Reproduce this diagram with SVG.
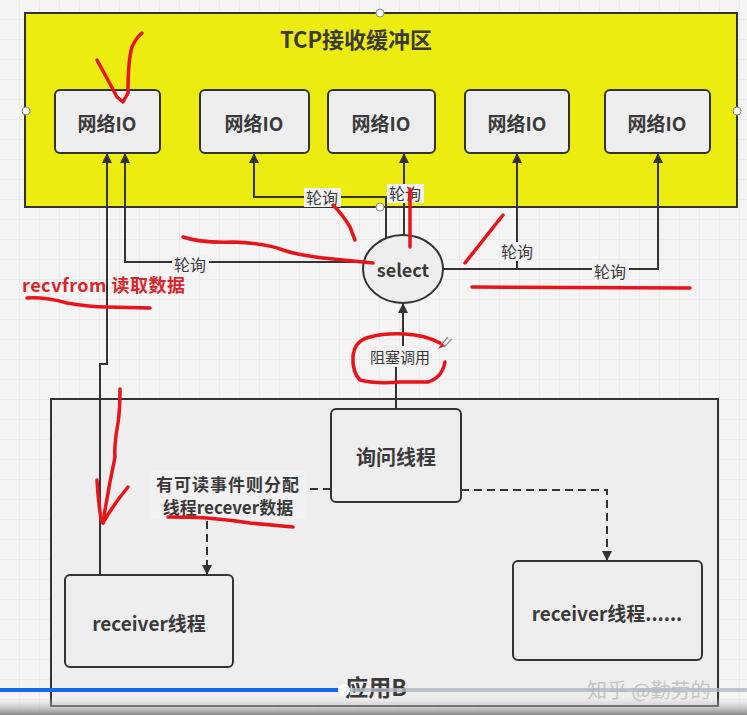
<svg xmlns="http://www.w3.org/2000/svg" width="747" height="715" viewBox="0 0 747 715">
<defs>
<pattern id="grid" width="20" height="20" patternUnits="userSpaceOnUse">
<rect width="20" height="20" fill="#f4f4f4"/>
<path d="M20 0V20M0 20H20" stroke="#e2e2e2" stroke-width="1" fill="none"/>
</pattern>
<marker id="arr" viewBox="0 0 10 10" refX="9" refY="5" markerWidth="10" markerHeight="10" markerUnits="userSpaceOnUse" orient="auto">
<path d="M0,0 L10,5 L0,10 Z" fill="#333"/>
</marker>
<linearGradient id="shade" x1="0" y1="0" x2="0" y2="1">
<stop offset="0" stop-color="#ddd" stop-opacity="0"/>
<stop offset="1" stop-color="#888"/>
</linearGradient>
</defs>
<style>
.t{font-family:"Noto Sans CJK SC","Noto Sans",sans-serif;fill:#3a3a3a;text-anchor:middle;dominant-baseline:central}
.b{font-weight:bold}
.box{fill:#eeeeee;stroke:#333;stroke-width:2}
.ln{fill:none;stroke:#333;stroke-width:2}
.dash{fill:none;stroke:#333;stroke-width:2;stroke-dasharray:8 5}
.lbg{fill:#f1f1f1}
.red{fill:none;stroke:#e8141a;stroke-width:3.5;stroke-linecap:round;stroke-linejoin:round}
.h{fill:#fff;stroke:#888;stroke-width:1}
</style>
<rect width="747" height="715" fill="url(#grid)"/>

<g id="tcp-buffer">
<rect x="25" y="13" width="712" height="194" fill="#ecec10" stroke="#333" stroke-width="2"/>
<text class="t b" x="356" y="38" font-size="22">TCP接收缓冲区</text>
</g>
<g id="app-b">
<rect x="51" y="399" width="667" height="307" fill="#eeeeee" stroke="#333" stroke-width="2"/>
<text class="t b" x="376" y="686" font-size="23">应用B</text>
</g>

<g id="io1"><rect class="box" x="55" y="90" width="105" height="63" rx="5"/><text class="t b" x="107" y="122" font-size="19">网络IO</text></g>
<g id="io2"><rect class="box" x="200" y="90" width="109" height="63" rx="5"/><text class="t b" x="254" y="122" font-size="19">网络IO</text></g>
<g id="io3"><rect class="box" x="328" y="90" width="107" height="63" rx="5"/><text class="t b" x="381" y="122" font-size="19">网络IO</text></g>
<g id="io4"><rect class="box" x="465" y="90" width="104" height="63" rx="5"/><text class="t b" x="517" y="122" font-size="19">网络IO</text></g>
<g id="io5"><rect class="box" x="605" y="90" width="105" height="63" rx="5"/><text class="t b" x="657" y="122" font-size="19">网络IO</text></g>

<g id="select"><ellipse class="box" cx="403" cy="269" rx="40" ry="34"/><text class="t b" x="403" y="269" font-size="18">select</text></g>
<g id="query-thread"><rect class="box" x="331" y="409" width="130" height="93" rx="5"/><text class="t b" x="396" y="456" font-size="20">询问线程</text></g>
<g id="receiver1"><rect class="box" x="65" y="575" width="168" height="92" rx="5"/><text class="t b" x="149" y="622" font-size="19">receiver线程</text></g>
<g id="receiver2"><rect class="box" x="513" y="561" width="189" height="99" rx="5"/><text class="t b" x="607" y="612" font-size="19">receiver线程......</text></g>

<g id="connectors">
<path class="ln" d="M100,575 V364 H107 V154" marker-end="url(#arr)"/>
<path class="ln" d="M364,262 H125 V154" marker-end="url(#arr)"/>
<path class="ln" d="M386,238 V197 H254 V154" marker-end="url(#arr)"/>
<path class="ln" d="M404,235 V154" marker-end="url(#arr)"/>
<path class="ln" d="M443,269 H517 V154" marker-end="url(#arr)"/>
<path class="ln" d="M443,269 H658 V154" marker-end="url(#arr)"/>
<path class="ln" d="M396,409 V356 H403 V304" marker-end="url(#arr)"/>
<path class="dash" d="M331,489 H207 V574" marker-end="url(#arr)"/>
<path class="dash" d="M461,490 H607 V560" marker-end="url(#arr)"/>

<rect class="lbg" x="172" y="255" width="37" height="19"/>
<text class="t" x="190" y="264" font-size="16">轮询</text>
<rect class="lbg" x="304" y="188" width="37" height="19"/>
<text class="t" x="322" y="197" font-size="16">轮询</text>
<rect class="lbg" x="387" y="184" width="37" height="19"/>
<text class="t" x="405" y="193" font-size="16">轮询</text>
<rect class="lbg" x="499" y="242" width="37" height="19"/>
<text class="t" x="517" y="251" font-size="16">轮询</text>
<rect class="lbg" x="592" y="261" width="37" height="19"/>
<text class="t" x="610" y="271" font-size="16">轮询</text>
<rect class="lbg" x="368" y="346" width="63" height="21"/>
<text class="t" x="400" y="356" font-size="15">阻塞调用</text>
<rect class="lbg" x="150" y="471" width="156" height="48"/>
<text class="t b" x="228" y="483" font-size="17" letter-spacing="1">有可读事件则分配</text>
<text class="t b" x="228" y="506" font-size="17">线程recever数据</text>
</g>

<g id="handles">
<circle class="h" cx="26" cy="111" r="4"/>
<circle class="h" cx="380" cy="13" r="4"/>
<circle class="h" cx="380" cy="207" r="4"/>
<circle class="h" cx="737" cy="111" r="4"/>
</g>

<g id="annotations">
<text x="22" y="284" font-family="&quot;Noto Sans CJK SC&quot;,&quot;Noto Sans&quot;,sans-serif" font-size="18" font-weight="bold" fill="#d8262a" dominant-baseline="central" letter-spacing="0.5">recvfrom 读取数据</text>
<path class="red" d="M97,60 Q108,80 117,97 L123,102 L128,93 Q128,60 132,47 Q136,38 142,33"/>
<path class="red" d="M333,205 Q343,215 350,227 L355,240"/>
<path class="red" d="M410,189 L410,247"/>
<path class="red" d="M183,237 Q200,243 233,242 Q265,243 283,250 Q300,256 333,259 L373,263"/>
<path class="red" d="M503,215 L465,263"/>
<path class="red" d="M472,287 L690,288"/>
<path class="red" d="M27,298 Q45,297 67,303 Q90,307 107,307 L150,308"/>
<path class="red" d="M440,343 Q425,335 405,334 Q385,333 370,337 Q355,340 353,356 Q352,372 360,380 Q375,384 400,382 L428,382 Q442,378 445,362"/>
<path class="red" d="M120,389 Q120,410 118,423 Q114,445 115,457 Q108,490 103,523"/>
<path class="red" d="M97,480 Q98,500 101,519 L103,523 Q113,505 128,487"/>
<path class="red" d="M168,517 Q190,517 207,518 Q230,520 250,523 L293,527"/>
<path d="M441,345 L448,337 M444,347 L452,339" stroke="#888" stroke-width="1.2" fill="none"/>
<path d="M438,349 L442,343 L445,346 Z" fill="#e8141a"/>
</g>

<g id="overlay">
<rect x="0" y="697" width="747" height="18" fill="url(#shade)"/>
<text x="587" y="689" font-family="&quot;Noto Sans CJK SC&quot;,sans-serif" font-size="20" fill="#c4c4c4" dominant-baseline="central">知乎 @勤劳的</text>
<rect x="343" y="688" width="404" height="4" fill="#b0b6c2" opacity="0.8"/>
<rect x="0" y="688" width="343" height="4" fill="#1565f0"/>
<circle cx="344" cy="690" r="6" fill="#fff"/>
</g>
</svg>
